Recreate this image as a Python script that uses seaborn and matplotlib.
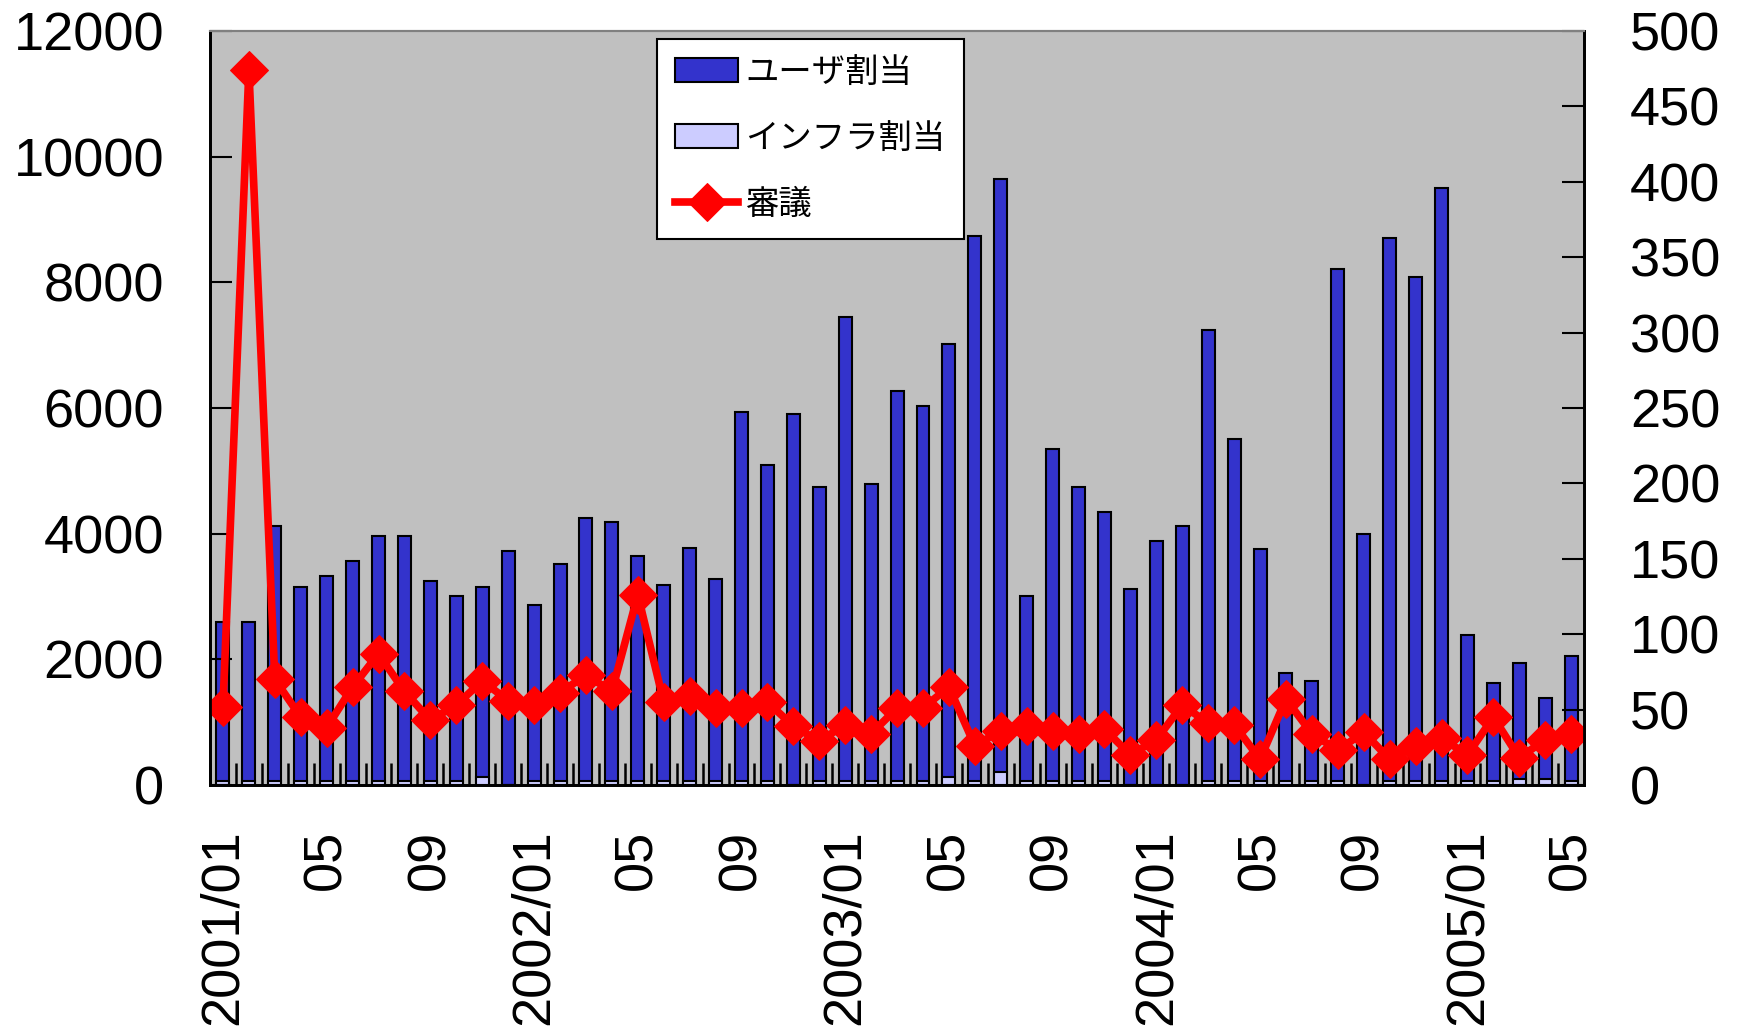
import numpy as np
import pandas as pd
import matplotlib
matplotlib.use("Agg")
import matplotlib.pyplot as plt
import seaborn as sns

# monthly categories 2001/01 .. 2005/05
months = [f"{y}/{m:02d}" for y in range(2001, 2006) for m in range(1, 13)][:53]

# ユーザ割当 (left axis)
user = [2530, 2530, 4060, 3090, 3270, 3500, 3900, 3900, 3180, 2940, 3020, 3718,
        2810, 3460, 4190, 4120, 3590, 3130, 3710, 3220, 5870, 5030, 5903, 4680,
        7394, 4730, 6210, 5970, 6900, 8680, 9440, 2940, 5280, 4680, 4280, 3119,
        3877, 4123, 7180, 5440, 3690, 1720, 1600, 8150, 4000, 8640, 8030, 9440,
        2320, 1560, 1840, 1280, 2000]
# インフラ割当 (left axis, stacked at the base)
infra = [60, 60, 60, 60, 60, 60, 60, 60, 60, 60, 130, 0,
         60, 60, 60, 60, 60, 60, 60, 60, 60, 60, 0, 60,
         60, 60, 60, 60, 120, 60, 200, 60, 60, 60, 60, 0,
         0, 0, 60, 60, 60, 60, 60, 60, 0, 60, 60, 60,
         60, 60, 100, 100, 60]
# 審議 (right axis)
shingi = [52, 474, 70, 45, 38, 65, 87, 62, 43, 53, 69, 56,
          53, 61, 73, 62, 126, 55, 59, 51, 51, 55, 39, 29,
          40, 34, 51, 51, 65, 26, 36, 39, 36, 34, 37, 20,
          30, 53, 41, 40, 17, 57, 34, 23, 35, 17, 26, 31,
          20, 45, 18, 30, 34]

tick_months = ["2001/01", "2001/05", "2001/09", "2002/01", "2002/05", "2002/09",
               "2003/01", "2003/05", "2003/09", "2004/01", "2004/05", "2004/09",
               "2005/01", "2005/05"]
tick_labels = ["2001/01", "05", "09", "2002/01", "05", "09",
               "2003/01", "05", "09", "2004/01", "05", "09",
               "2005/01", "05"]

df = pd.DataFrame({"month": months,
                   "total": np.array(user) + np.array(infra),
                   "infra": infra,
                   "shingi": shingi})
n = len(months)

plt.rcParams["font.family"] = ["Liberation Sans", "Noto Sans CJK JP", "DejaVu Sans"]

fig = plt.figure(figsize=(17.37, 10.30), dpi=100)
ax = fig.add_axes([0.1209, 0.2379, 0.7911, 0.7321])
ax.set_facecolor("#C0C0C0")

sns.barplot(data=df, x="month", y="total", color="#3333CC", saturation=1,
            edgecolor="black", linewidth=1.5, width=0.5, ax=ax, label="ユーザ割当")
sns.barplot(data=df, x="month", y="infra", color="#CCCCFF", saturation=1,
            edgecolor="black", linewidth=1.5, width=0.5, ax=ax, label="インフラ割当")

ax2 = ax.twinx()
sns.lineplot(x=np.arange(n), y=df["shingi"], ax=ax2, color="red", linewidth=5.5,
             marker="D", markersize=19, markeredgecolor="red", label="審議")

ax.set_xlim(-0.5, n - 0.5)
ax.set_ylim(0, 12000)
ax2.set_ylim(0, 500)
ax.set_yticks(range(0, 12001, 2000))
ax2.set_yticks(range(0, 501, 50))

ax.set_xticks([months.index(m) for m in tick_months])
ax.set_xticklabels(tick_labels, rotation=90, fontsize=39)
ax.set_xticks(np.arange(-0.5, n, 1), minor=True)
ax.tick_params(axis="x", which="major", length=0, pad=32)
ax.tick_params(axis="x", which="minor", direction="in", length=16, width=1.8, color="black")
ax.tick_params(axis="y", direction="in", length=16, width=1.5, pad=33, labelsize=39)
ax2.tick_params(axis="y", direction="in", length=16, width=1.5, pad=33, labelsize=39)
ax.set_xlabel("")
ax.set_ylabel("")
ax2.set_ylabel("")

for a in (ax, ax2):
    for s in ("left", "right", "bottom"):
        a.spines[s].set_linewidth(2)
        a.spines[s].set_color("black")
    a.spines["top"].set_color("#808080")
    a.spines["top"].set_linewidth(1.5)

h1, l1 = ax.get_legend_handles_labels()
h2, l2 = ax2.get_legend_handles_labels()
if ax.get_legend() is not None:
    ax.get_legend().remove()
leg = ax2.legend(h1 + h2, l1 + l2, loc="upper left", bbox_to_anchor=(0.325, 0.989),
                 borderaxespad=0, fontsize=24, frameon=True, fancybox=False,
                 framealpha=1, handlelength=1.9, labelspacing=1.05, borderpad=0.55,
                 handletextpad=0.2)
leg.get_frame().set_edgecolor("black")
leg.get_frame().set_linewidth(1.5)

fig.savefig("out.png", dpi=100)
